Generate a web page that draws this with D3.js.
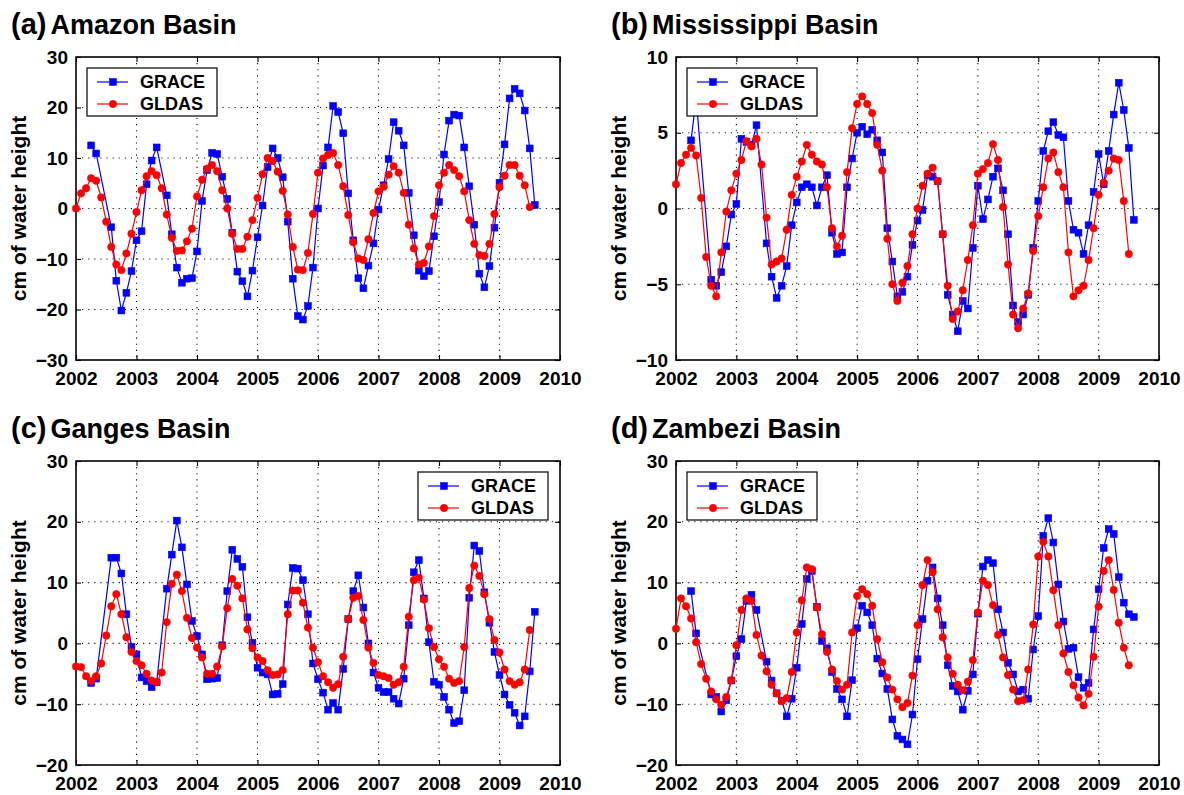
<!DOCTYPE html>
<html>
<head>
<meta charset="utf-8">
<script src="https://d3js.org/d3.v7.min.js"></script>
<style>
  body { margin: 0; background: #fff; }
  svg text { font-family: "Liberation Sans", Arial, Helvetica, sans-serif; font-weight: bold; fill: #000; }
</style>
</head>
<body>
<svg id="chart" width="1184" height="795"></svg>
<script>
// ---------------- data ----------------
const xTicks = [2002, 2003, 2004, 2005, 2006, 2007, 2008, 2009, 2010];
const seriesNames = ["GRACE", "GLDAS"];
const yLabel = "cm of water height";

// GLDAS monthly values start Jan 2002; GRACE monthly values start Apr 2002 (null = missing month)
const gldasStartMonth = 0;
const graceStartMonth = 3;

const amazonYTicks = [-30, -20, -10, 0, 10, 20, 30];
const amazonGLDAS = [
  0, 3.0, 4.0, 6.0, 5.5, 2.2, -2.6, -7.6, -11.1, -12.2, -8.9, -5.0,
  -0.7, 3.6, 6.4, 7.4, 6.6, 4.0, -1.2, -5.8, -8.4, -8.3, -6.5, -4.0,
  2.4, 5.7, 7.9, 8.6, 7.4, 3.6, 0.0, -5.0, -8.0, -8.0, -5.6, -2.3,
  2.1, 6.8, 10.0, 9.4, 7.3, 3.5, -1.2, -7.6, -12.1, -12.2, -8.8, -1.1,
  7.1, 9.9, 10.6, 11.0, 8.6, 4.4, -1.3, -6.7, -9.9, -10.2, -6.1, -0.9,
  3.4, 4.3, 6.7, 8.4, 7.1, 3.1, -3.2, -7.9, -11.1, -10.8, -7.5, -1.5,
  4.6, 7.1, 8.6, 7.6, 6.4, 3.4, -2.3, -7.0, -9.2, -9.4, -7.0, -1.1,
  4.2, 6.5, 8.6, 8.6, 6.5, 4.6, 0.3
];
const amazonGRACE = [
  12.5, 10.9, null, null, -3.7, -14.3, -20.2, -16.7, -12.4,
  -6.3, -4.5, 4.8, 9.5, 12.1, null, 2.6, -5.1, -11.7, -14.7, -13.9, -13.8,
  -8.5, 1.5, 7.6, 11.0, 10.8, 6.3, 1.9, -4.8, -12.5, -14.4, -17.4, -12.3,
  -5.7, 0.6, 8.2, 11.9, 10.0, 6.2, -2.6, -13.9, -21.3, -22.0, -19.3, -11.7,
  0.0, 8.5, 12.1, 20.3, 19.1, 14.9, 3.0, -6.3, -13.8, -15.8, -11.3, -6.9,
  -0.2, 4.6, 9.8, 17.1, 15.4, 12.5, 3.1, -5.3, -12.3, -13.4, -12.4, -5.5,
  1.3, 10.7, 17.4, 18.6, 18.4, 12.1, 4.4, -3.2, -12.9, -15.6, -11.4, -3.8,
  5.1, 12.7, 21.8, 23.7, 22.8, 19.4, 11.9, 0.7
];

const mississippiYTicks = [-10, -5, 0, 5, 10];
const mississippiGLDAS = [
  1.6, 3.0, 3.55, 4.0, 3.5, 0.7, -3.2, -5.1, -5.8, -2.9, -0.2, 1.2,
  2.3, 3.2, 4.45, 4.1, 4.6, 2.9, -0.6, -3.7, -3.5, -3.3, -1.4, 0.9,
  2.1, 3.1, 4.2, 3.55, 3.1, 2.9, 1.4, -1.3, -2.5, -1.8, 2.4, 5.3,
  6.9, 7.4, 6.9, 6.3, 4.2, 2.5, -2.0, -5.0, -6.1, -4.9, -3.8, -1.7,
  0.0, 1.5, 2.3, 2.7, 1.8, -1.7, -5.1, -7.3, -6.8, -5.4, -3.4, -1.1,
  2.3, 2.6, 3.0, 4.25, 3.2, 0.1, -3.7, -7.0, -7.9, -6.6, -5.6, -2.8,
  -0.5, 1.4, 3.3, 3.7, 2.4, 1.4, -2.9, -5.8, -5.4, -5.1, -3.4, -1.3,
  0.9, 1.7, 2.5, 3.3, 3.2, 0.5, -3.0
];
const mississippiGRACE = [
  4.5, 7.3, null, null, -4.7, -5.1, -4.2, -2.5, -0.4,
  0.3, 4.6, 4.4, 4.2, 5.5, null, -2.3, -4.5, -5.9, -5.1, -3.8, -1.1,
  0.4, 1.4, 1.6, 1.4, 0.2, 1.4, 2.2, -1.6, -3.0, -2.9, 1.4, 3.3,
  5.0, 5.4, 4.9, 5.2, 4.5, 3.7, -1.3, -3.5, -5.8, -5.5, -4.5, -2.4,
  -0.8, -0.1, 2.2, 2.1, 1.8, -1.7, -5.7, -7.0, -8.1, -6.1, -6.6, -2.6,
  1.5, -0.7, 0.6, 2.1, 2.65, 1.2, -1.7, -6.4, -7.5, -7.0, -5.7, -2.6,
  0.5, 3.8, 5.1, 5.7, 4.85, 4.7, 0.5, -1.4, -1.6, -3.0, -1.1, 1.1,
  3.6, 1.6, 3.8, 6.2, 8.3, 6.5, 4.0, -0.75
];

const gangesYTicks = [-20, -10, 0, 10, 20, 30];
const gangesGLDAS = [
  -3.8, -3.9, -5.4, -6.2, -5.4, -3.3, 1.3, 6.1, 8.1, 4.8, 1.0, -1.4,
  -2.9, -3.6, -5.0, -6.1, -6.4, -4.8, 3.5, 9.8, 11.3, 8.6, 4.2, 0.9,
  -0.7, -2.3, -5.0, -5.0, -3.8, -0.5, 5.8, 10.6, 9.5, 7.4, 2.3, -0.8,
  -2.3, -2.9, -4.4, -5.2, -5.1, -4.4, 4.8, 8.7, 8.7, 6.7, 2.6, -0.7,
  -3.1, -5.4, -6.4, -7.3, -6.7, -2.2, 4.0, 7.5, 7.8, 3.85, -0.7, -3.2,
  -5.2, -5.4, -5.7, -6.8, -6.4, -3.85, 4.4, 10.4, 10.8, 7.2, 2.5, -0.6,
  -2.6, -3.85, -5.8, -6.5, -6.2, -0.6, 9.1, 12.8, 11.1, 8.1, 4.0, 0.55,
  -1.5, -4.3, -6.2, -6.8, -6.4, -4.3, 2.2
];
const gangesGRACE = [
  -6.5, -5.8, null, null, 14.1, 14.1, 11.5, 4.8, -0.55,
  -1.8, -5.6, -6.2, -7.2, -6.4, null, 9.0, 14.6, 20.2, 15.8, 9.7, 3.7,
  1.2, -1.8, -5.9, -5.8, -5.7, -0.3, 8.6, 15.4, 13.9, 12.6, 4.3, 0.1,
  -4.0, -4.8, -5.1, -8.4, -8.3, -6.7, 6.4, 12.4, 12.3, 10.4, 4.8, -3.3,
  -5.9, -8.1, -10.9, -9.8, -10.9, -4.2, 4.0, 8.6, 11.2, 5.9, 0.0, -4.8,
  -7.3, -8.0, -8.0, -9.1, -9.9, -5.8, 3.0, 11.7, 13.7, 7.4, 0.2, -6.3,
  -6.8, -8.8, -10.9, -13.1, -12.8, -7.7, 7.5, 16.1, 15.2, 8.4, 3.4, -1.4,
  -5.2, -8.4, -10.1, -11.4, -13.5, -12.0, -4.6, 5.2
];

const zambeziYTicks = [-20, -10, 0, 10, 20, 30];
const zambeziGLDAS = [
  2.4, 7.4, 6.1, 4.1, 0.2, -3.4, -5.8, -7.9, -9.2, -10.1, -8.8, -6.05,
  -0.3, 5.5, 7.4, 7.0, 1.4, -2.0, -4.6, -6.8, -8.25, -9.5, -9.0, -4.7,
  1.8, 7.1, 12.5, 12.2, 5.9, 1.5, -1.4, -4.3, -6.2, -7.6, -6.8, 1.8,
  7.8, 8.9, 8.1, 6.2, 0.7, -3.1, -5.6, -7.6, -9.2, -10.5, -9.8, -5.3,
  3.0, 9.6, 13.7, 11.7, 5.6, 1.0, -2.3, -5.0, -6.8, -7.7, -6.3, -2.75,
  5.1, 10.3, 9.6, 6.3, 1.4, -2.3, -5.2, -7.6, -9.5, -9.35, -4.3, 3.1,
  14.3, 16.7, 14.3, 8.75, 3.0, -1.65, -4.7, -6.9, -8.9, -10.2, -8.3, -2.2,
  6.05, 11.9, 13.7, 8.8, 3.4, -0.7, -3.6
];
const zambeziGRACE = [
  8.6, 1.65, null, null, -8.4, -8.8, -11.2, -9.35, -6.1,
  -2.1, 0.7, 7.0, 8.0, 5.5, null, -3.0, -6.1, -8.2, -9.4, -12.0, -9.1,
  -4.0, 3.2, 10.6, 11.9, 6.0, 0.4, -0.8, -4.7, -7.5, -9.2, -12.0, -6.05,
  2.5, 6.2, 5.1, 3.0, -2.5, -4.95, -7.5, -12.5, -15.2, -15.8, -16.6, -11.7,
  -2.6, 4.0, 10.3, 12.5, 7.4, 3.0, -3.6, -7.0, -7.9, -10.9, -7.8, -5.1,
  4.9, 12.65, 13.7, 13.2, 5.6, 1.8, -3.2, -5.1, -7.9, -7.6, -9.1, -1.0,
  4.5, 17.7, 20.6, 16.6, 9.7, 3.6, -0.9, -0.7, -5.55, -7.3, -6.5, 2.3,
  8.9, 15.7, 18.8, 18.0, 10.9, 6.7, 4.8, 4.35
];

// ---------------- layout ----------------
const panels = [
  { tag: "(a)", name: "Amazon Basin", left: 76, top: 57, w: 484, h: 303, yDomain: [-30, 30], yTicks: amazonYTicks, grace: amazonGRACE, gldas: amazonGLDAS, legend: "left" },
  { tag: "(b)", name: "Mississippi Basin", left: 676, top: 57, w: 483, h: 303, yDomain: [-10, 10], yTicks: mississippiYTicks, grace: mississippiGRACE, gldas: mississippiGLDAS, legend: "left" },
  { tag: "(c)", name: "Ganges Basin", left: 76, top: 461, w: 484, h: 304, yDomain: [-20, 30], yTicks: gangesYTicks, grace: gangesGRACE, gldas: gangesGLDAS, legend: "right" },
  { tag: "(d)", name: "Zambezi Basin", left: 676, top: 461, w: 483, h: 304, yDomain: [-20, 30], yTicks: zambeziYTicks, grace: zambeziGRACE, gldas: zambeziGLDAS, legend: "left" }
];

const BLUE = "#0000ff", RED = "#ff0000";
const svg = d3.select("#chart");
svg.append("rect").attr("width", 1184).attr("height", 795).attr("fill", "#fff");

function toPoints(values, startMonth) {
  return values.map((v, i) => ({ t: 2002 + (startMonth + i) / 12, v }))
               .filter(d => d.v !== null);
}

function drawMarker(g, type, x, y, color) {
  if (type === "square") {
    g.append("rect").attr("x", x - 3.4).attr("y", y - 3.4).attr("width", 6.8).attr("height", 6.8)
      .attr("fill", color).attr("stroke", color).attr("stroke-width", 0.6);
  } else {
    g.append("circle").attr("cx", x).attr("cy", y).attr("r", 3.7)
      .attr("fill", color).attr("stroke", color).attr("stroke-width", 0.6);
  }
}

panels.forEach(p => {
  const g = svg.append("g").attr("transform", `translate(${p.left},${p.top})`);
  const x = d3.scaleLinear().domain([xTicks[0], xTicks[xTicks.length - 1]]).range([0, p.w]);
  const y = d3.scaleLinear().domain(p.yDomain).range([p.h, 0]);

  // grid (dotted)
  const grid = g.append("g");
  grid.selectAll("line.vx").data(xTicks.slice(1, -1)).join("line")
    .attr("x1", d => x(d)).attr("x2", d => x(d)).attr("y1", 0).attr("y2", p.h)
    .attr("stroke", "#000").attr("stroke-width", 1.1).attr("stroke-dasharray", "1.1,5");
  grid.selectAll("line.hy").data(p.yTicks.slice(1, -1)).join("line")
    .attr("x1", 0).attr("x2", p.w).attr("y1", d => y(d)).attr("y2", d => y(d))
    .attr("stroke", "#000").attr("stroke-width", 1.1).attr("stroke-dasharray", "1.1,5");

  // axes with inward ticks
  const fmt = d3.format("d");
  const ax = g.append("g").attr("transform", `translate(0,${p.h})`)
    .call(d3.axisBottom(x).tickValues(xTicks).tickFormat(fmt).tickSizeInner(-5).tickSizeOuter(0).tickPadding(12));
  const ay = g.append("g")
    .call(d3.axisLeft(y).tickValues(p.yTicks).tickFormat(fmt).tickSizeInner(-5).tickSizeOuter(0).tickPadding(8));
  const at = g.append("g")
    .call(d3.axisTop(x).tickValues(xTicks).tickFormat("").tickSizeInner(-5).tickSizeOuter(0));
  const ar = g.append("g").attr("transform", `translate(${p.w},0)`)
    .call(d3.axisRight(y).tickValues(p.yTicks).tickFormat("").tickSizeInner(-5).tickSizeOuter(0));
  [ax, ay, at, ar].forEach(a => {
    a.select(".domain").remove();
    a.selectAll(".tick line").attr("stroke", "#000").attr("stroke-width", 1.1);
    a.selectAll("text").attr("font-size", 19).attr("font-weight", "bold")
      .attr("font-family", '"Liberation Sans", Arial, Helvetica, sans-serif').attr("fill", "#000");
  });

  // frame
  g.append("rect").attr("x", 0).attr("y", 0).attr("width", p.w).attr("height", p.h)
    .attr("fill", "none").attr("stroke", "#000").attr("stroke-width", 1.6);

  // series
  const line = d3.line().x(d => x(d.t)).y(d => y(d.v));
  const gr = toPoints(p.grace, graceStartMonth);
  const gl = toPoints(p.gldas, gldasStartMonth);

  g.append("path").datum(gr).attr("d", line).attr("fill", "none").attr("stroke", BLUE).attr("stroke-width", 1.2);
  const gm = g.append("g");
  gr.forEach(d => drawMarker(gm, "square", x(d.t), y(d.v), BLUE));

  g.append("path").datum(gl).attr("d", line).attr("fill", "none").attr("stroke", RED).attr("stroke-width", 1.2);
  const rm = g.append("g");
  gl.forEach(d => drawMarker(rm, "circle", x(d.t), y(d.v), RED));

  // y label
  g.append("text").attr("transform", `translate(-50,${p.h / 2}) rotate(-90)`)
    .attr("text-anchor", "middle").attr("font-size", 21).text(yLabel);

  // title
  const tTag = svg.append("text").attr("x", p.left - 65).attr("y", p.top - 23)
    .attr("font-size", 29).text(p.tag);
  const tagW = tTag.node().getComputedTextLength();
  svg.append("text").attr("x", p.left - 65 + tagW + 4).attr("y", p.top - 23)
    .attr("font-size", 27).text(p.name);

  // legend
  const lw = 130, lh = 48;
  const lx = p.legend === "left" ? 11 : p.w - 12 - lw;
  const ly = 11;
  const lg = g.append("g").attr("transform", `translate(${lx},${ly})`);
  lg.append("rect").attr("width", lw).attr("height", lh).attr("fill", "#fff")
    .attr("stroke", "#000").attr("stroke-width", 1.2);
  const rows = [
    { name: seriesNames[0], color: BLUE, marker: "square" },
    { name: seriesNames[1], color: RED, marker: "circle" }
  ];
  rows.forEach((r, i) => {
    const cy = 14 + i * 22;
    lg.append("line").attr("x1", 10).attr("x2", 41).attr("y1", cy).attr("y2", cy)
      .attr("stroke", r.color).attr("stroke-width", 1.2);
    drawMarker(lg, r.marker, 26, cy, r.color);
    lg.append("text").attr("x", 53).attr("y", cy).attr("dy", "0.36em")
      .attr("font-size", 18).text(r.name);
  });
});
</script>
</body>
</html>
